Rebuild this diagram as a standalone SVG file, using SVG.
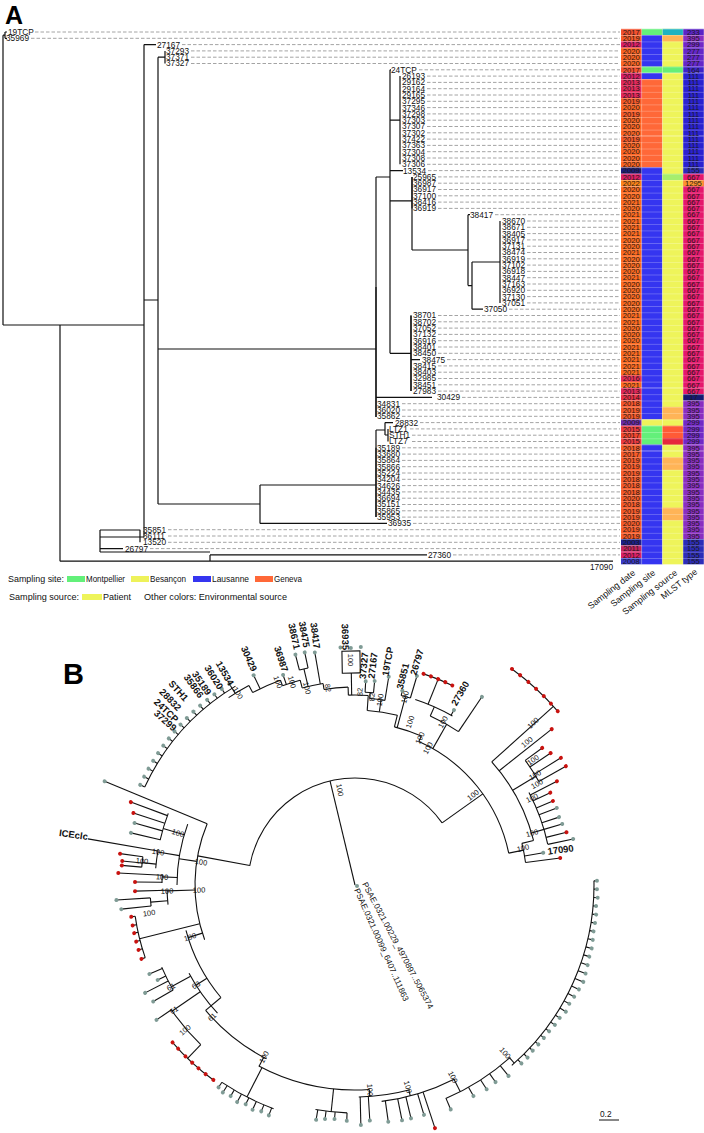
<svg xmlns="http://www.w3.org/2000/svg" width="704" height="1133" viewBox="0 0 704 1133">
<style>
.t{font-family:"Liberation Sans",Arial,sans-serif;font-size:8.3px;fill:#111}
.hm{font-family:"Liberation Sans",Arial,sans-serif;font-size:7.6px;fill:#1a1a1a;text-anchor:middle}
.br{fill:none;stroke:#111;stroke-width:1.2}
.dash{fill:none;stroke:#9a9a9a;stroke-width:0.9;stroke-dasharray:3.5 2}
.lg{font-family:"Liberation Sans",Arial,sans-serif;font-size:9px;fill:#111}
.hd{font-family:"Liberation Sans",Arial,sans-serif;font-size:9px;fill:#111;text-anchor:end}
.bl{font-family:"Liberation Sans",Arial,sans-serif;font-size:9.5px;font-weight:bold;fill:#111;text-anchor:middle}
.bs{font-family:"Liberation Sans",Arial,sans-serif;font-size:7.5px;fill:#111;text-anchor:middle}
.arc{fill:none;stroke:#111;stroke-width:1.1}
.big{font-family:"Liberation Sans",Arial,sans-serif;font-weight:bold;fill:#000}
</style>
<defs>
<pattern id="rows" x="0" y="28.85" width="10" height="6.3" patternUnits="userSpaceOnUse"><rect x="0" y="0" width="10" height="0.5" fill="#fff" fill-opacity="0.45"/></pattern>
<circle id="g" r="2" fill="#7f9b95" stroke="none"/>
<circle id="r" r="2" fill="#c8120f" stroke="none"/>
</defs>

<text class="big" x="5" y="24" font-size="25">A</text>
<text class="big" x="63" y="684" font-size="29">B</text>

<g id="treeA-connectors">
<path class="br" d="M3,35.2V325 M3,35.2H5 M5,32V38.3 M5,32H7 M5,38.3H7 M3,325H144
M144,44.6V537 M144,44.6H156 M144,300H158
M158,57.2V504 M158,57.2H165 M158,349H376 M158,504H260
M376,177V417 M376,177H390 M376,397.4H432
M390,69.8V353.3 M390,69.8H391 M390,120.2H400 M390,170.6H403 M390,200.9H412 M390,353.3H411
M412,176.9V250 M412,250H468
M468,214.7V285.6 M468,214.7H470 M468,285.6H472
M472,262V309.2 M472,262H500 M472,309.2H483
M411,315.5V391.1 M411,359.6H420
M260,485V523.4 M260,485H376 M260,523.4H387
M376,430V517.1 M376,430H385 M385,422.6V435 M385,422.6H393 M385,435H388
M144,537H100 M100,530V552 M100,530H140 M140,529.7V542.3 M100,548.6H123"/>
<path class="br" stroke-width="2.2" d="M165,50.9V63.5 M400,76.1V164.3 M412,176.9V208.4 M500,221V302.9 M411,315.5V391.1 M376,287V417 M376,447.8V517.1 M388,428.9V441.5"/>
<path class="br" d="M210,554.9H427 M210,554.9V561.2 M100,552H210 M60,561.2H613 M60,325V561.2"/>
</g>

<g id="dashes">
<path class="dash" d="M35,32H620 M31,38.3H620 M182,44.6H620 M191,50.9H620 M191,57.2H620 M191,63.5H620 M419,69.8H620
M427,76.1H620 M427,82.4H620 M427,88.7H620 M427,95H620 M427,101.3H620 M427,107.6H620 M427,113.9H620 M427,120.2H620 M427,126.5H620 M427,132.8H620 M427,139.1H620 M427,145.4H620 M427,151.7H620 M427,158H620 M427,164.3H620
M428,170.6H620 M438,176.9H620 M438,183.2H620 M438,189.5H620 M438,195.8H620 M438,202.1H620 M438,208.4H620 M495,214.7H620
M527,221H620 M527,227.3H620 M527,233.6H620 M527,239.9H620 M527,246.2H620 M527,252.5H620 M527,258.8H620 M527,265.1H620 M527,271.4H620 M527,277.7H620 M527,284H620 M527,290.3H620 M527,296.6H620 M527,302.9H620
M509,309.2H620 M438,315.5H620 M438,321.8H620 M438,328.1H620 M438,334.4H620 M438,340.7H620 M438,347H620 M438,353.3H620 M447,359.6H620 M438,365.9H620 M438,372.2H620 M438,378.5H620 M438,384.8H620 M438,391.1H620
M462,397.4H620 M402,403.7H620 M402,410H620 M402,416.3H620 M420,422.6H620 M410,428.9H620 M412,435.2H620 M412,441.5H620
M402,447.8H620 M402,454.1H620 M402,460.4H620 M402,466.7H620 M402,473H620 M402,479.3H620 M402,485.6H620 M402,491.9H620 M402,498.2H620 M402,504.5H620 M402,510.8H620 M402,517.1H620 M413,523.4H620
M168,529.7H620 M168,536H620 M168,542.3H620 M150,548.6H620 M453,554.9H620"/>
</g>

<g id="labelsA">
<text class="t"><tspan x="8" y="34.9">19TCP</tspan><tspan x="6" y="41.2">35969</tspan><tspan x="157" y="47.5">27167</tspan><tspan x="166" y="53.8">37293</tspan><tspan x="166" y="60.1">37371</tspan><tspan x="166" y="66.4">37327</tspan><tspan x="391" y="72.7">24TCP</tspan>
<tspan x="402" y="79">26193</tspan><tspan x="402" y="85.3">29162</tspan><tspan x="402" y="91.6">29164</tspan><tspan x="402" y="97.9">29165</tspan><tspan x="402" y="104.2">37295</tspan><tspan x="402" y="110.5">37346</tspan><tspan x="402" y="116.8">37298</tspan><tspan x="402" y="123.1">37303</tspan><tspan x="402" y="129.4">37307</tspan><tspan x="402" y="135.7">37302</tspan><tspan x="402" y="142">37422</tspan><tspan x="402" y="148.3">37363</tspan><tspan x="402" y="154.6">37304</tspan><tspan x="402" y="160.9">37308</tspan><tspan x="402" y="167.2">37306</tspan>
<tspan x="403" y="173.5">13534</tspan><tspan x="413" y="179.8">25965</tspan><tspan x="413" y="186.1">36987</tspan><tspan x="413" y="192.4">36917</tspan><tspan x="413" y="198.7">37100</tspan><tspan x="413" y="205">38416</tspan><tspan x="413" y="211.3">36919</tspan><tspan x="470" y="217.6">38417</tspan>
<tspan x="502" y="223.9">38670</tspan><tspan x="502" y="230.2">38671</tspan><tspan x="502" y="236.5">38405</tspan><tspan x="502" y="242.8">36917</tspan><tspan x="502" y="249.1">37131</tspan><tspan x="502" y="255.4">38474</tspan><tspan x="502" y="261.7">36919</tspan><tspan x="502" y="268">37102</tspan><tspan x="502" y="274.3">36918</tspan><tspan x="502" y="280.6">38447</tspan><tspan x="502" y="286.9">37163</tspan><tspan x="502" y="293.2">36920</tspan><tspan x="502" y="299.5">37130</tspan><tspan x="502" y="305.8">37051</tspan><tspan x="484" y="312.1">37050</tspan>
<tspan x="413" y="318.4">38701</tspan><tspan x="413" y="324.7">38702</tspan><tspan x="413" y="331">37052</tspan><tspan x="413" y="337.3">37132</tspan><tspan x="413" y="343.6">36916</tspan><tspan x="413" y="349.9">38401</tspan><tspan x="413" y="356.2">38450</tspan><tspan x="422" y="362.5">38475</tspan><tspan x="413" y="368.8">38415</tspan><tspan x="413" y="375.1">38403</tspan><tspan x="413" y="381.4">32985</tspan><tspan x="413" y="387.7">38451</tspan><tspan x="413" y="394">27983</tspan><tspan x="437" y="400.3">30429</tspan>
<tspan x="377" y="406.6">34831</tspan><tspan x="377" y="412.9">36020</tspan><tspan x="377" y="419.2">35862</tspan><tspan x="395" y="425.5">28832</tspan><tspan x="389" y="431.8">LTZ1</tspan><tspan x="389" y="438.1">STH1</tspan><tspan x="389" y="444.4">LTZ7</tspan>
<tspan x="377" y="450.7">35189</tspan><tspan x="377" y="457">33680</tspan><tspan x="377" y="463.3">35864</tspan><tspan x="377" y="469.6">35866</tspan><tspan x="377" y="475.9">35224</tspan><tspan x="377" y="482.2">34204</tspan><tspan x="377" y="488.5">34626</tspan><tspan x="377" y="494.8">34435</tspan><tspan x="377" y="501.1">36694</tspan><tspan x="377" y="507.4">35151</tspan><tspan x="377" y="513.7">35865</tspan><tspan x="377" y="520">35953</tspan><tspan x="388" y="526.3">36935</tspan>
<tspan x="143" y="532.6">35851</tspan><tspan x="143" y="538.9">36111</tspan><tspan x="143" y="545.2">13520</tspan><tspan x="125" y="551.5">26797</tspan><tspan x="428" y="557.8">27360</tspan></text>
<text class="t" x="590" y="570">17090</text>
</g>

<g id="heatmap">
<g id="col-date">
<rect x="621" y="28.85" width="20.7" height="6.3" fill="#f4502d"/><rect x="621" y="35.15" width="20.7" height="6.3" fill="#f85a28"/><rect x="621" y="41.45" width="20.7" height="6.3" fill="#dc1f66"/><rect x="621" y="47.75" width="20.7" height="18.9" fill="#fe6421"/><rect x="621" y="66.65" width="20.7" height="6.3" fill="#f4502d"/><rect x="621" y="72.95" width="20.7" height="6.3" fill="#dc1f66"/><rect x="621" y="79.25" width="20.7" height="18.9" fill="#e4285a"/><rect x="621" y="98.15" width="20.7" height="69.3" fill="#fe6421"/><rect x="621" y="98.15" width="20.7" height="6.3" fill="#f85a28"/><rect x="621" y="110.75" width="20.7" height="6.3" fill="#f85a28"/><rect x="621" y="135.95" width="20.7" height="6.3" fill="#f85a28"/>
<rect x="621" y="167.45" width="20.7" height="6.3" fill="#1c1c7a"/><rect x="621" y="173.75" width="20.7" height="6.3" fill="#dc1f66"/><rect x="621" y="180.05" width="20.7" height="6.3" fill="#ff8418"/><rect x="621" y="186.35" width="20.7" height="207.9" fill="#ff6a1f"/><rect x="621" y="375.35" width="20.7" height="6.3" fill="#ea2d57"/><rect x="621" y="387.95" width="20.7" height="6.3" fill="#e4285a"/><rect x="621" y="394.25" width="20.7" height="6.3" fill="#ec3048"/><rect x="621" y="400.55" width="20.7" height="6.3" fill="#f85428"/><rect x="621" y="406.85" width="20.7" height="12.6" fill="#f85a28"/><rect x="621" y="419.45" width="20.7" height="6.3" fill="#6b2aa8"/><rect x="621" y="425.75" width="20.7" height="6.3" fill="#f03a40"/><rect x="621" y="432.05" width="20.7" height="6.3" fill="#f4462e"/><rect x="621" y="438.35" width="20.7" height="6.3" fill="#f03a40"/><rect x="621" y="444.65" width="20.7" height="94.5" fill="#f85a28"/><rect x="621" y="539.15" width="20.7" height="6.3" fill="#1b1f8c"/><rect x="621" y="545.45" width="20.7" height="6.3" fill="#c2225f"/><rect x="621" y="551.75" width="20.7" height="6.3" fill="#dc1f66"/><rect x="621" y="558.05" width="20.7" height="6.3" fill="#3b3bcc"/>
</g>
<g id="col-site">
<rect x="641.7" y="28.85" width="20.7" height="6.3" fill="#63f07a"/><rect x="641.7" y="35.15" width="20.7" height="31.5" fill="#3535f0"/><rect x="641.7" y="66.65" width="20.7" height="6.3" fill="#63f07a"/><rect x="641.7" y="72.95" width="20.7" height="6.3" fill="#3535f0"/><rect x="641.7" y="79.25" width="20.7" height="88.2" fill="#ff6838"/><rect x="641.7" y="167.45" width="20.7" height="252" fill="#3535f0"/><rect x="641.7" y="419.45" width="20.7" height="6.3" fill="#eef25a"/><rect x="641.7" y="425.75" width="20.7" height="18.9" fill="#63f07a"/><rect x="641.7" y="444.65" width="20.7" height="119.7" fill="#3535f0"/>
</g>
<g id="col-source">
<rect x="662.4" y="28.85" width="20.7" height="535.5" fill="#eef45a"/><rect x="662.4" y="28.85" width="20.7" height="6.3" fill="#1fb3c0"/><rect x="662.4" y="35.15" width="20.7" height="6.3" fill="#ffb457"/><rect x="662.4" y="66.65" width="20.7" height="6.3" fill="#66ee77"/><rect x="662.4" y="173.75" width="20.7" height="6.3" fill="#a6ee6e"/><rect x="662.4" y="406.85" width="20.7" height="12.6" fill="#ffb457"/><rect x="662.4" y="425.75" width="20.7" height="12.6" fill="#ff5a36"/><rect x="662.4" y="438.05" width="20.7" height="6.6" fill="#e6283c"/><rect x="662.4" y="457.25" width="20.7" height="12.6" fill="#ffb457"/><rect x="662.4" y="507.65" width="20.7" height="12.6" fill="#ffb457"/>
</g>
<g id="col-mlst">
<rect x="683.1" y="28.85" width="20.7" height="6.3" fill="#5b24c6"/><rect x="683.1" y="35.15" width="20.7" height="6.3" fill="#8a2ec0"/><rect x="683.1" y="41.45" width="20.7" height="6.3" fill="#7229c6"/><rect x="683.1" y="47.75" width="20.7" height="18.9" fill="#6527c8"/><rect x="683.1" y="66.65" width="20.7" height="6.3" fill="#3e24c8"/><rect x="683.1" y="72.95" width="20.7" height="94.5" fill="#2b22d0"/><rect x="683.1" y="167.45" width="20.7" height="6.3" fill="#2d2db8"/><rect x="683.1" y="173.75" width="20.7" height="220.5" fill="#e5186c"/><rect x="683.1" y="180.05" width="20.7" height="6.3" fill="#ff922e"/><rect x="683.1" y="394.25" width="20.7" height="6.3" fill="#151a70"/><rect x="683.1" y="400.55" width="20.7" height="18.9" fill="#8a2ec0"/><rect x="683.1" y="419.45" width="20.7" height="25.2" fill="#7229c6"/><rect x="683.1" y="444.65" width="20.7" height="94.5" fill="#8a2ec0"/><rect x="683.1" y="539.15" width="20.7" height="25.2" fill="#2d2db8"/>
</g>
<rect x="621" y="28.85" width="82.8" height="535.5" fill="url(#rows)"/>
<path d="M641.7,28.85V564.35 M662.4,28.85V564.35 M683.1,28.85V564.35" stroke="#fff" stroke-opacity="0.4" stroke-width="0.5"/>
<text class="hm"><tspan x="631.3" y="34.7">2017</tspan><tspan x="631.3" y="41">2019</tspan><tspan x="631.3" y="47.3">2012</tspan><tspan x="631.3" y="53.6">2020</tspan><tspan x="631.3" y="59.9">2020</tspan><tspan x="631.3" y="66.2">2020</tspan><tspan x="631.3" y="72.5">2017</tspan><tspan x="631.3" y="78.8">2012</tspan><tspan x="631.3" y="85.1">2013</tspan><tspan x="631.3" y="91.4">2013</tspan><tspan x="631.3" y="97.7">2013</tspan><tspan x="631.3" y="104">2019</tspan><tspan x="631.3" y="110.3">2020</tspan><tspan x="631.3" y="116.6">2019</tspan><tspan x="631.3" y="122.9">2020</tspan><tspan x="631.3" y="129.2">2020</tspan><tspan x="631.3" y="135.5">2020</tspan><tspan x="631.3" y="141.8">2019</tspan><tspan x="631.3" y="148.1">2020</tspan><tspan x="631.3" y="154.4">2020</tspan><tspan x="631.3" y="160.7">2020</tspan><tspan x="631.3" y="167">2020</tspan><tspan x="631.3" y="173.3">2009</tspan><tspan x="631.3" y="179.6">2012</tspan><tspan x="631.3" y="185.9">2022</tspan><tspan x="631.3" y="192.2">2020</tspan><tspan x="631.3" y="198.5">2020</tspan><tspan x="631.3" y="204.8">2021</tspan><tspan x="631.3" y="211.1">2020</tspan><tspan x="631.3" y="217.4">2021</tspan><tspan x="631.3" y="223.7">2021</tspan><tspan x="631.3" y="230">2021</tspan><tspan x="631.3" y="236.3">2021</tspan><tspan x="631.3" y="242.6">2020</tspan><tspan x="631.3" y="248.9">2020</tspan><tspan x="631.3" y="255.2">2021</tspan><tspan x="631.3" y="261.5">2020</tspan><tspan x="631.3" y="267.8">2020</tspan><tspan x="631.3" y="274.1">2020</tspan><tspan x="631.3" y="280.4">2021</tspan><tspan x="631.3" y="286.7">2020</tspan><tspan x="631.3" y="293">2020</tspan><tspan x="631.3" y="299.3">2020</tspan><tspan x="631.3" y="305.6">2020</tspan><tspan x="631.3" y="311.9">2020</tspan><tspan x="631.3" y="318.2">2021</tspan><tspan x="631.3" y="324.5">2021</tspan><tspan x="631.3" y="330.8">2020</tspan><tspan x="631.3" y="337.1">2020</tspan><tspan x="631.3" y="343.4">2020</tspan><tspan x="631.3" y="349.7">2021</tspan><tspan x="631.3" y="356">2021</tspan><tspan x="631.3" y="362.3">2021</tspan><tspan x="631.3" y="368.6">2021</tspan><tspan x="631.3" y="374.9">2021</tspan><tspan x="631.3" y="381.2">2016</tspan><tspan x="631.3" y="387.5">2021</tspan><tspan x="631.3" y="393.8">2013</tspan><tspan x="631.3" y="400.1">2014</tspan><tspan x="631.3" y="406.4">2018</tspan><tspan x="631.3" y="412.7">2019</tspan><tspan x="631.3" y="419">2019</tspan><tspan x="631.3" y="425.3">2009</tspan><tspan x="631.3" y="431.6">2015</tspan><tspan x="631.3" y="437.9">2017</tspan><tspan x="631.3" y="444.2">2015</tspan><tspan x="631.3" y="450.5">2018</tspan><tspan x="631.3" y="456.8">2017</tspan><tspan x="631.3" y="463.1">2019</tspan><tspan x="631.3" y="469.4">2019</tspan><tspan x="631.3" y="475.7">2019</tspan><tspan x="631.3" y="482">2018</tspan><tspan x="631.3" y="488.3">2018</tspan><tspan x="631.3" y="494.6">2018</tspan><tspan x="631.3" y="500.9">2020</tspan><tspan x="631.3" y="507.2">2018</tspan><tspan x="631.3" y="513.5">2019</tspan><tspan x="631.3" y="519.8">2019</tspan><tspan x="631.3" y="526.1">2020</tspan><tspan x="631.3" y="532.4">2019</tspan><tspan x="631.3" y="538.7">2019</tspan><tspan x="631.3" y="545">2003</tspan><tspan x="631.3" y="551.3">2011</tspan><tspan x="631.3" y="557.6">2012</tspan><tspan x="631.3" y="563.9">2008</tspan></text>
<text class="hm"><tspan x="693.4" y="34.7">233</tspan><tspan x="693.4" y="41">395</tspan><tspan x="693.4" y="47.3">299</tspan><tspan x="693.4" y="53.6">277</tspan><tspan x="693.4" y="59.9">277</tspan><tspan x="693.4" y="66.2">277</tspan><tspan x="693.4" y="72.5">164</tspan><tspan x="693.4" y="78.8">111</tspan><tspan x="693.4" y="85.1">111</tspan><tspan x="693.4" y="91.4">111</tspan><tspan x="693.4" y="97.7">111</tspan><tspan x="693.4" y="104">111</tspan><tspan x="693.4" y="110.3">111</tspan><tspan x="693.4" y="116.6">111</tspan><tspan x="693.4" y="122.9">111</tspan><tspan x="693.4" y="129.2">111</tspan><tspan x="693.4" y="135.5">111</tspan><tspan x="693.4" y="141.8">111</tspan><tspan x="693.4" y="148.1">111</tspan><tspan x="693.4" y="154.4">111</tspan><tspan x="693.4" y="160.7">111</tspan><tspan x="693.4" y="167">111</tspan><tspan x="693.4" y="173.3">155</tspan><tspan x="693.4" y="179.6">667</tspan><tspan x="693.4" y="185.9">1295</tspan><tspan x="693.4" y="192.2">667</tspan><tspan x="693.4" y="198.5">667</tspan><tspan x="693.4" y="204.8">667</tspan><tspan x="693.4" y="211.1">667</tspan><tspan x="693.4" y="217.4">667</tspan><tspan x="693.4" y="223.7">667</tspan><tspan x="693.4" y="230">667</tspan><tspan x="693.4" y="236.3">667</tspan><tspan x="693.4" y="242.6">667</tspan><tspan x="693.4" y="248.9">667</tspan><tspan x="693.4" y="255.2">667</tspan><tspan x="693.4" y="261.5">667</tspan><tspan x="693.4" y="267.8">667</tspan><tspan x="693.4" y="274.1">667</tspan><tspan x="693.4" y="280.4">667</tspan><tspan x="693.4" y="286.7">667</tspan><tspan x="693.4" y="293">667</tspan><tspan x="693.4" y="299.3">667</tspan><tspan x="693.4" y="305.6">667</tspan><tspan x="693.4" y="311.9">667</tspan><tspan x="693.4" y="318.2">667</tspan><tspan x="693.4" y="324.5">667</tspan><tspan x="693.4" y="330.8">667</tspan><tspan x="693.4" y="337.1">667</tspan><tspan x="693.4" y="343.4">667</tspan><tspan x="693.4" y="349.7">667</tspan><tspan x="693.4" y="356">667</tspan><tspan x="693.4" y="362.3">667</tspan><tspan x="693.4" y="368.6">667</tspan><tspan x="693.4" y="374.9">667</tspan><tspan x="693.4" y="381.2">667</tspan><tspan x="693.4" y="387.5">667</tspan><tspan x="693.4" y="393.8">667</tspan><tspan x="693.4" y="400.1">17</tspan><tspan x="693.4" y="406.4">395</tspan><tspan x="693.4" y="412.7">395</tspan><tspan x="693.4" y="419">395</tspan><tspan x="693.4" y="425.3">299</tspan><tspan x="693.4" y="431.6">299</tspan><tspan x="693.4" y="437.9">299</tspan><tspan x="693.4" y="444.2">299</tspan><tspan x="693.4" y="450.5">395</tspan><tspan x="693.4" y="456.8">395</tspan><tspan x="693.4" y="463.1">395</tspan><tspan x="693.4" y="469.4">395</tspan><tspan x="693.4" y="475.7">395</tspan><tspan x="693.4" y="482">395</tspan><tspan x="693.4" y="488.3">395</tspan><tspan x="693.4" y="494.6">395</tspan><tspan x="693.4" y="500.9">395</tspan><tspan x="693.4" y="507.2">395</tspan><tspan x="693.4" y="513.5">395</tspan><tspan x="693.4" y="519.8">395</tspan><tspan x="693.4" y="526.1">395</tspan><tspan x="693.4" y="532.4">395</tspan><tspan x="693.4" y="538.7">395</tspan><tspan x="693.4" y="545">155</tspan><tspan x="693.4" y="551.3">155</tspan><tspan x="693.4" y="557.6">155</tspan><tspan x="693.4" y="563.9">155</tspan></text>
<text class="hd" transform="translate(636,574) rotate(-38)">Sampling date</text>
<text class="hd" transform="translate(656,574) rotate(-38)">Sampling site</text>
<text class="hd" transform="translate(678,574) rotate(-38)">Sampling source</text>
<text class="hd" transform="translate(698,573) rotate(-38)">MLST type</text>
</g>

<g id="legend">
<text class="lg" x="8" y="582" textLength="56" lengthAdjust="spacingAndGlyphs">Sampling site:</text>
<rect x="67" y="576" width="18" height="6" fill="#63f07a"/>
<text class="lg" x="86" y="582" textLength="39" lengthAdjust="spacingAndGlyphs">Montpellier</text>
<rect x="131" y="576" width="18" height="6" fill="#eef25a"/>
<text class="lg" x="150" y="582" textLength="36" lengthAdjust="spacingAndGlyphs">Besançon</text>
<rect x="193" y="576" width="18" height="6" fill="#3535f0"/>
<text class="lg" x="212" y="582" textLength="37" lengthAdjust="spacingAndGlyphs">Lausanne</text>
<rect x="255" y="576" width="18" height="6" fill="#ff6838"/>
<text class="lg" x="274" y="582" textLength="28" lengthAdjust="spacingAndGlyphs">Geneva</text>
<text class="lg" x="9" y="600" textLength="70" lengthAdjust="spacingAndGlyphs">Sampling source:</text>
<rect x="82" y="594" width="20" height="6" fill="#eef45a"/>
<text class="lg" x="103" y="600" textLength="28" lengthAdjust="spacingAndGlyphs">Patient</text>
<text class="lg" x="144" y="600" textLength="143" lengthAdjust="spacingAndGlyphs">Other colors: Environmental source</text>
</g>

<g id="treeB" class="arc" transform="translate(355,885)">
<circle r="107" pathLength="360" stroke-dasharray="134.2 225.8" transform="rotate(-169.7)"/>
<line x2="107" transform="rotate(-103.5)"/>
<use href="#g" x="2" y="1"/>
<line x1="107" x2="160" transform="rotate(-169.5)"/>
<circle r="160" pathLength="360" stroke-dasharray="42.5 317.5" transform="rotate(160)"/>
<g transform="rotate(-157.5)"><line x1="160" x2="271"/><use href="#g" x="271"/></g>
<line x1="107" x2="157" transform="rotate(-35.5)"/>
<circle r="157" pathLength="360" stroke-dasharray="54.3 305.7" transform="rotate(-66)"/>
<line x1="157" x2="185" transform="rotate(-60.3)"/>
<circle r="185" pathLength="360" stroke-dasharray="10 350" transform="rotate(-66)"/>
<g transform="rotate(-56)"><line x1="185" x2="227"/><use href="#g" x="227"/></g>
<line x1="185" x2="195" transform="rotate(-66)"/>
<circle r="195" pathLength="360" stroke-dasharray="12 348" transform="rotate(-72)"/>
<g transform="rotate(-60.5)"><line x1="195" x2="201"/><use href="#g" x="201"/></g>
<line x1="195" x2="222" transform="rotate(-68)"/>
<circle r="222" pathLength="360" stroke-dasharray="8 352" transform="rotate(-72)"/>
<use href="#r" x="222" transform="rotate(-72)"/><use href="#r" x="222" transform="rotate(-70)"/><use href="#r" x="222" transform="rotate(-68)"/><use href="#r" x="222" transform="rotate(-66)"/><use href="#r" x="222" transform="rotate(-64)"/>
<line x1="157" x2="163" transform="rotate(-66)"/>
<circle r="163" pathLength="360" stroke-dasharray="10 350" transform="rotate(-76)"/>
<line x1="163" x2="195" transform="rotate(-75)"/>
<circle r="195" pathLength="360" stroke-dasharray="2.8 357.2" transform="rotate(-76.3)"/>
<g transform="rotate(-76.3)"><line x1="195" x2="200"/><use href="#g" x="200"/></g>
<g transform="rotate(-73.5)"><line x1="195" x2="218"/><use href="#g" x="218"/></g>
<line x1="163" x2="175" transform="rotate(-76)"/>
<circle r="175" pathLength="360" stroke-dasharray="10 350" transform="rotate(-86)"/>
<line x1="175" x2="187" transform="rotate(-82)"/>
<circle r="187" pathLength="360" stroke-dasharray="4.7 355.3" transform="rotate(-85.5)"/>
<g transform="rotate(-80.8)"><line x1="187" x2="211"/><use href="#g" x="211"/></g>
<line x1="187" x2="193" transform="rotate(-85.5)"/>
<circle r="193" pathLength="360" stroke-dasharray="2.5 357.5" transform="rotate(-87)"/>
<g transform="rotate(-84.5)"><line x1="193" x2="205"/><use href="#g" x="205"/></g>
<g transform="rotate(-87)"><line x1="193" x2="204"/><use href="#g" x="204"/></g>
<line x1="175" x2="190" transform="rotate(-86)"/>
<circle r="190" pathLength="360" stroke-dasharray="6 354" transform="rotate(-92)"/>
<line x1="190" x2="212" transform="rotate(-91)"/>
<path d="M212,-9H234V9H212Z" transform="rotate(-91)"/>
<use href="#g" x="238" transform="rotate(-93.5)"/><use href="#g" x="237" transform="rotate(-91)"/><use href="#g" x="238" transform="rotate(-88.6)"/>
<line x1="190" x2="198" transform="rotate(-92)"/>
<circle r="198" pathLength="360" stroke-dasharray="7 353" transform="rotate(-99)"/>
<line x1="198" x2="204" transform="rotate(-99)"/>
<circle r="204" pathLength="360" stroke-dasharray="6 354" transform="rotate(-105)"/>
<g transform="rotate(-99.8)"><line x1="204" x2="236"/><use href="#g" x="236"/></g>
<line x1="204" x2="222" transform="rotate(-103.3)"/>
<circle r="222" pathLength="360" stroke-dasharray="2.3 357.7" transform="rotate(-104.5)"/>
<g transform="rotate(-102.2)"><line x1="222" x2="238"/><use href="#g" x="238"/></g>
<g transform="rotate(-104.5)"><line x1="222" x2="238"/><use href="#g" x="238"/></g>
<line x1="204" x2="212" transform="rotate(-105)"/>
<circle r="212" pathLength="360" stroke-dasharray="5 355" transform="rotate(-110)"/>
<g transform="rotate(-108.9)"><line x1="212" x2="222"/><use href="#g" x="222"/></g>
<line x1="212" x2="218" transform="rotate(-110)"/>
<circle r="218" pathLength="360" stroke-dasharray="8 352" transform="rotate(-118)"/>
<g transform="rotate(-115.8)"><line x1="218" x2="233"/><use href="#g" x="233"/></g>
<line x1="218" x2="226" transform="rotate(-118)"/>
<circle r="226" pathLength="360" stroke-dasharray="6 354" transform="rotate(-124)"/>
<line x1="226" x2="232" transform="rotate(-122)"/>
<circle r="232" pathLength="360" stroke-dasharray="34 326" transform="rotate(-155)"/>
<g transform="rotate(-155)"><line x1="232" x2="237"/><use href="#g" x="237"/></g><g transform="rotate(-152.8)"><line x1="232" x2="237"/><use href="#g" x="237"/></g><g transform="rotate(-150.6)"><line x1="232" x2="237"/><use href="#g" x="237"/></g><g transform="rotate(-148.4)"><line x1="232" x2="237"/><use href="#g" x="237"/></g><g transform="rotate(-146.2)"><line x1="232" x2="237"/><use href="#g" x="237"/></g><g transform="rotate(-144)"><line x1="232" x2="237"/><use href="#g" x="237"/></g><g transform="rotate(-141.8)"><line x1="232" x2="237"/><use href="#g" x="237"/></g><g transform="rotate(-139.6)"><line x1="232" x2="237"/><use href="#g" x="237"/></g><g transform="rotate(-137.4)"><line x1="232" x2="237"/><use href="#g" x="237"/></g><g transform="rotate(-135.2)"><line x1="232" x2="237"/><use href="#g" x="237"/></g><g transform="rotate(-133)"><line x1="232" x2="237"/><use href="#g" x="237"/></g><g transform="rotate(-130.8)"><line x1="232" x2="237"/><use href="#g" x="237"/></g><g transform="rotate(-128.6)"><line x1="232" x2="237"/><use href="#g" x="237"/></g><g transform="rotate(-126.4)"><line x1="232" x2="237"/><use href="#g" x="237"/></g><g transform="rotate(-124.2)"><line x1="232" x2="237"/><use href="#g" x="237"/></g><g transform="rotate(-122)"><line x1="232" x2="237"/><use href="#g" x="237"/></g>
<line x1="157" x2="172" transform="rotate(-11.7)"/>
<circle r="172" pathLength="360" stroke-dasharray="6.5 353.5" transform="rotate(-14)"/>
<g transform="rotate(-9.7)"><line x1="172" x2="191"/><use href="#g" x="191"/></g>
<g transform="rotate(-7.5)"><line x1="172" x2="207"/><use href="#r" x="207"/></g>
<line x1="172" x2="184" transform="rotate(-14)"/>
<circle r="184" pathLength="360" stroke-dasharray="28 332" transform="rotate(-42)"/>
<line x1="184" x2="197" transform="rotate(-16.4)"/>
<circle r="197" pathLength="360" stroke-dasharray="16 344" transform="rotate(-28)"/>
<g transform="rotate(-14)"><line x1="197" x2="218"/><use href="#r" x="218"/></g><g transform="rotate(-11.9)"><line x1="197" x2="223"/><use href="#g" x="223"/></g><g transform="rotate(-16.4)"><line x1="197" x2="216"/><use href="#g" x="216"/></g><g transform="rotate(-18.4)"><line x1="197" x2="215"/><use href="#g" x="215"/></g><g transform="rotate(-20.9)"><line x1="197" x2="216"/><use href="#g" x="216"/></g><g transform="rotate(-23)"><line x1="197" x2="215"/><use href="#r" x="215"/></g><g transform="rotate(-25.3)"><line x1="197" x2="216"/><use href="#r" x="216"/></g><g transform="rotate(-27.2)"><line x1="197" x2="227"/><use href="#r" x="227"/></g>
<line x1="184" x2="211" transform="rotate(-31)"/>
<circle r="211" pathLength="360" stroke-dasharray="6.8 353.2" transform="rotate(-36.2)"/>
<g transform="rotate(-29.4)"><line x1="211" x2="242"/><use href="#r" x="242"/></g><g transform="rotate(-31.7)"><line x1="211" x2="242"/><use href="#r" x="242"/></g><g transform="rotate(-34)"><line x1="211" x2="236"/><use href="#r" x="236"/></g><g transform="rotate(-36.2)"><line x1="211" x2="232"/><use href="#r" x="232"/></g>
<g transform="rotate(-38.4)"><line x1="184" x2="251"/><use href="#r" x="251"/></g>
<line x1="184" x2="267" transform="rotate(-42)"/>
<circle r="267" pathLength="360" stroke-dasharray="13.4 346.6" transform="rotate(-54)"/>
<use href="#r" x="267" transform="rotate(-54)"/><use href="#r" x="267" transform="rotate(-51.8)"/><use href="#r" x="267" transform="rotate(-49.5)"/><use href="#r" x="267" transform="rotate(-47.3)"/><use href="#r" x="267" transform="rotate(-45)"/><use href="#r" x="267" transform="rotate(-42.8)"/><use href="#r" x="267" transform="rotate(-40.6)"/>
<line x1="160" x2="178" transform="rotate(188.5)"/>
<circle r="178" pathLength="360" stroke-dasharray="20 340" transform="rotate(180)"/>
<line x1="178" x2="200" transform="rotate(196.4)"/>
<circle r="200" pathLength="360" stroke-dasharray="8 352" transform="rotate(193)"/>
<g transform="rotate(200.3)"><line x1="200" x2="239"/><use href="#r" x="239"/></g><g transform="rotate(198)"><line x1="200" x2="233"/><use href="#r" x="233"/></g><g transform="rotate(195.7)"><line x1="200" x2="229"/><use href="#g" x="229"/></g><g transform="rotate(193.1)"><line x1="200" x2="230"/><use href="#g" x="230"/></g>
<line x1="178" x2="200" transform="rotate(189.5)"/>
<circle r="200" pathLength="360" stroke-dasharray="5.5 354.5" transform="rotate(184.8)"/>
<line x1="200" x2="271" transform="rotate(189.8)"/>
<line x1="200" x2="214" transform="rotate(186)"/>
<circle r="214" pathLength="360" stroke-dasharray="2.8 357.2" transform="rotate(184.8)"/>
<g transform="rotate(187.6)"><line x1="214" x2="237"/><use href="#r" x="237"/></g><g transform="rotate(185.9)"><line x1="214" x2="234"/><use href="#r" x="234"/></g><g transform="rotate(184.8)"><line x1="214" x2="234"/><use href="#r" x="234"/></g>
<line x1="178" x2="193" transform="rotate(182.4)"/>
<circle r="193" pathLength="360" stroke-dasharray="2.5 357.5" transform="rotate(180.6)"/>
<g transform="rotate(182.9)"><line x1="193" x2="237"/><use href="#r" x="237"/></g><g transform="rotate(180.8)"><line x1="193" x2="220"/><use href="#r" x="220"/></g>
<line x1="160" x2="188" transform="rotate(178.2)"/>
<circle r="188" pathLength="360" stroke-dasharray="4.6 355.4" transform="rotate(174)"/>
<g transform="rotate(178.4)"><line x1="188" x2="220"/><use href="#r" x="220"/></g>
<line x1="188" x2="205" transform="rotate(175.2)"/>
<circle r="205" pathLength="360" stroke-dasharray="2.3 357.7" transform="rotate(174.1)"/>
<g transform="rotate(176.4)"><line x1="205" x2="239"/><use href="#g" x="239"/></g><g transform="rotate(174.1)"><line x1="205" x2="235"/><use href="#g" x="235"/></g>
<line x1="160" x2="222" transform="rotate(166)"/>
<circle r="222" pathLength="360" stroke-dasharray="11 349" transform="rotate(160.9)"/>
<g transform="rotate(171.9)"><line x1="222" x2="226"/><use href="#r" x="226"/></g><g transform="rotate(169.7)"><line x1="222" x2="226"/><use href="#r" x="226"/></g><g transform="rotate(167.7)"><line x1="222" x2="226"/><use href="#r" x="226"/></g><g transform="rotate(165.5)"><line x1="222" x2="226"/><use href="#r" x="226"/></g><g transform="rotate(163.3)"><line x1="222" x2="226"/><use href="#r" x="226"/></g><g transform="rotate(160.9)"><line x1="222" x2="226"/><use href="#r" x="226"/></g>
<line x1="160" x2="175" transform="rotate(162.5)"/>
<circle r="175" pathLength="360" stroke-dasharray="25 335" transform="rotate(140)"/>
<line x1="175" x2="188" transform="rotate(147.8)"/>
<circle r="188" pathLength="360" stroke-dasharray="15 345" transform="rotate(137)"/>
<line x1="188" x2="210" transform="rotate(151)"/>
<circle r="210" pathLength="360" stroke-dasharray="7 353" transform="rotate(150)"/>
<g transform="rotate(150)"><line x1="210" x2="233"/><use href="#g" x="233"/></g><g transform="rotate(152.8)"><line x1="210" x2="236"/><use href="#g" x="236"/></g><g transform="rotate(154.3)"><line x1="210" x2="219"/><use href="#g" x="219"/></g><g transform="rotate(156.6)"><line x1="210" x2="224"/><use href="#g" x="224"/></g>
<line x1="188" x2="222" transform="rotate(145.4)"/>
<circle r="222" pathLength="360" stroke-dasharray="12 348" transform="rotate(134)"/>
<g transform="rotate(145.8)"><line x1="222" x2="240"/><use href="#g" x="240"/></g>
<line x1="222" x2="241" transform="rotate(134)"/>
<circle r="241" pathLength="360" stroke-dasharray="13.5 346.5" transform="rotate(126)"/>
<use href="#r" x="241" transform="rotate(139.2)"/><use href="#r" x="241" transform="rotate(137.2)"/><use href="#r" x="241" transform="rotate(134.7)"/><use href="#r" x="241" transform="rotate(132.5)"/><use href="#r" x="241" transform="rotate(130.5)"/><use href="#r" x="241" transform="rotate(128.3)"/><use href="#r" x="241" transform="rotate(126)"/>
<line x1="175" x2="195" transform="rotate(140)"/>
<circle r="195" pathLength="360" stroke-dasharray="23 337" transform="rotate(117)"/>
<line x1="195" x2="205" transform="rotate(117.9)"/>
<circle r="205" pathLength="360" stroke-dasharray="32 328" transform="rotate(86)"/>
<line x1="205" x2="238" transform="rotate(117)"/>
<circle r="238" pathLength="360" stroke-dasharray="14 346" transform="rotate(110)"/>
<g transform="rotate(110.5)"><line x1="238" x2="246"/><use href="#g" x="246"/></g><g transform="rotate(112.5)"><line x1="238" x2="245"/><use href="#g" x="245"/></g><g transform="rotate(114.5)"><line x1="238" x2="247"/><use href="#g" x="247"/></g><g transform="rotate(116.5)"><line x1="238" x2="245"/><use href="#g" x="245"/></g><g transform="rotate(118.5)"><line x1="238" x2="247"/><use href="#g" x="247"/></g><g transform="rotate(120.5)"><line x1="238" x2="245"/><use href="#g" x="245"/></g><g transform="rotate(122.5)"><line x1="238" x2="246"/><use href="#g" x="246"/></g><g transform="rotate(124)"><line x1="238" x2="244"/><use href="#g" x="244"/></g>
<line x1="205" x2="228" transform="rotate(96)"/>
<circle r="228" pathLength="360" stroke-dasharray="8 352" transform="rotate(92)"/>
<g transform="rotate(92)"><line x1="228" x2="236"/><use href="#g" x="236"/></g><g transform="rotate(95)"><line x1="228" x2="235"/><use href="#g" x="235"/></g><g transform="rotate(97.3)"><line x1="228" x2="236"/><use href="#g" x="236"/></g><g transform="rotate(99.4)"><line x1="228" x2="238"/><use href="#g" x="238"/></g>
<line x1="205" x2="212" transform="rotate(86)"/>
<circle r="212" pathLength="360" stroke-dasharray="14 346" transform="rotate(75)"/>
<g transform="rotate(86.4)"><line x1="212" x2="236"/><use href="#g" x="236"/></g><g transform="rotate(88.6)"><line x1="212" x2="240"/><use href="#g" x="240"/></g>
<line x1="212" x2="218" transform="rotate(75.3)"/>
<circle r="218" pathLength="360" stroke-dasharray="20 340" transform="rotate(63)"/>
<g transform="rotate(82)"><line x1="218" x2="239"/><use href="#g" x="239"/></g><g transform="rotate(78.7)"><line x1="218" x2="240"/><use href="#g" x="240"/></g><g transform="rotate(76.5)"><line x1="218" x2="240"/><use href="#g" x="240"/></g><g transform="rotate(73.3)"><line x1="218" x2="240"/><use href="#g" x="240"/></g><g transform="rotate(71.8)"><line x1="218" x2="256"/><use href="#r" x="256"/></g>
<line x1="218" x2="232" transform="rotate(63)"/>
<circle r="232" pathLength="360" stroke-dasharray="19 341" transform="rotate(48)"/>
<g transform="rotate(66.9)"><line x1="232" x2="244"/><use href="#g" x="244"/></g><g transform="rotate(60.7)"><line x1="232" x2="242"/><use href="#g" x="242"/></g><g transform="rotate(57.2)"><line x1="232" x2="243"/><use href="#g" x="243"/></g><g transform="rotate(54.5)"><line x1="232" x2="242"/><use href="#g" x="242"/></g><g transform="rotate(51.2)"><line x1="232" x2="245"/><use href="#g" x="245"/></g>
<line x1="232" x2="239" transform="rotate(48.2)"/>
<circle r="239" pathLength="360" stroke-dasharray="50 310" transform="rotate(-1)"/>
<g transform="rotate(-1)"><line x1="239" x2="242"/><use href="#g" x="242"/></g><g transform="rotate(1)"><line x1="239" x2="242"/><use href="#g" x="242"/></g><g transform="rotate(3)"><line x1="239" x2="243"/><use href="#g" x="243"/></g><g transform="rotate(5)"><line x1="239" x2="242"/><use href="#g" x="242"/></g><g transform="rotate(7)"><line x1="239" x2="243"/><use href="#g" x="243"/></g><g transform="rotate(9)"><line x1="239" x2="243"/><use href="#g" x="243"/></g><g transform="rotate(11)"><line x1="239" x2="243"/><use href="#g" x="243"/></g><g transform="rotate(13)"><line x1="239" x2="244"/><use href="#g" x="244"/></g><g transform="rotate(15)"><line x1="239" x2="245"/><use href="#g" x="245"/></g><g transform="rotate(17)"><line x1="239" x2="245"/><use href="#g" x="245"/></g><g transform="rotate(19)"><line x1="239" x2="246"/><use href="#g" x="246"/></g><g transform="rotate(21)"><line x1="239" x2="247"/><use href="#g" x="247"/></g><g transform="rotate(23)"><line x1="239" x2="248"/><use href="#g" x="248"/></g><g transform="rotate(25)"><line x1="239" x2="247"/><use href="#g" x="247"/></g><g transform="rotate(27)"><line x1="239" x2="246"/><use href="#g" x="246"/></g><g transform="rotate(29)"><line x1="239" x2="245"/><use href="#g" x="245"/></g><g transform="rotate(31)"><line x1="239" x2="246"/><use href="#g" x="246"/></g><g transform="rotate(33)"><line x1="239" x2="244"/><use href="#g" x="244"/></g><g transform="rotate(35)"><line x1="239" x2="244"/><use href="#g" x="244"/></g><g transform="rotate(37)"><line x1="239" x2="243"/><use href="#g" x="243"/></g><g transform="rotate(39)"><line x1="239" x2="243"/><use href="#g" x="243"/></g><g transform="rotate(41)"><line x1="239" x2="243"/><use href="#g" x="243"/></g><g transform="rotate(43)"><line x1="239" x2="243"/><use href="#g" x="243"/></g><g transform="rotate(45)"><line x1="239" x2="244"/><use href="#g" x="244"/></g><g transform="rotate(47)"><line x1="239" x2="244"/><use href="#g" x="244"/></g>
</g>

<g id="treeB-bootstrap">
<text class="bs" dy="0.35em" transform="translate(238,693) rotate(58.6)">100</text>
<text class="bs" dy="0.35em" transform="translate(278,682) rotate(69.2)">100</text>
<text class="bs" dy="0.35em" transform="translate(292,682) rotate(72.7)">100</text>
<text class="bs" dy="0.35em" transform="translate(307,688) rotate(76.3)">100</text>
<text class="bs" dy="0.35em" transform="translate(328,688) rotate(82.2)">82</text>
<text class="bs" dy="0.35em" transform="translate(360,692) rotate(-88.5)">82</text>
<text class="bs" dy="0.35em" transform="translate(372,697) rotate(-84.8)">82</text>
<text class="bs" dy="0.35em" transform="translate(380,700) rotate(-82.3)">100</text>
<text class="bs" dy="0.35em" transform="translate(405,697) rotate(-75.1)">100</text>
<text class="bs" dy="0.35em" transform="translate(410,722) rotate(-71.4)">100</text>
<text class="bs" dy="0.35em" transform="translate(420,738) rotate(-66.1)">100</text>
<text class="bs" dy="0.35em" transform="translate(428,748) rotate(-61.9)">100</text>
<text class="bs" dy="0.35em" transform="translate(443,722) rotate(-61.6)">100</text>
<text class="bs" dy="0.35em" transform="translate(473,795) rotate(-37.3)">100</text>
<text class="bs" dy="0.35em" transform="translate(351,660) rotate(90)">100</text>
<text class="bs" dy="0.35em" transform="translate(340,790) rotate(80)">100</text>
<text class="bs" dy="0.35em" transform="translate(533,723) rotate(-42.3)">100</text>
<text class="bs" dy="0.35em" transform="translate(527,742) rotate(-39.7)">100</text>
<text class="bs" dy="0.35em" transform="translate(533,760) rotate(-35.1)">100</text>
<text class="bs" dy="0.35em" transform="translate(535,775) rotate(-31.4)">100</text>
<text class="bs" dy="0.35em" transform="translate(537,784) rotate(-29.2)">100</text>
<text class="bs" dy="0.35em" transform="translate(532,798) rotate(-26.2)">100</text>
<text class="bs" dy="0.35em" transform="translate(532,833) rotate(-16.4)">100</text>
<text class="bs" dy="0.35em" transform="translate(523,848) rotate(-12.4)">100</text>
<text class="bs" dy="0.35em" transform="translate(178,833) rotate(16.4)">100</text>
<text class="bs" dy="0.35em" transform="translate(158,852) rotate(9.5)">100</text>
<text class="bs" dy="0.35em" transform="translate(142,861) rotate(6.4)">100</text>
<text class="bs" dy="0.35em" transform="translate(201,862) rotate(8.5)">100</text>
<text class="bs" dy="0.35em" transform="translate(162,877) rotate(2.4)">100</text>
<text class="bs" dy="0.35em" transform="translate(167,891) rotate(-1.8)">100</text>
<text class="bs" dy="0.35em" transform="translate(149,913) rotate(-7.7)">100</text>
<text class="bs" dy="0.35em" transform="translate(199,890) rotate(-1.8)">100</text>
<text class="bs" dy="0.35em" transform="translate(190,937) rotate(-17.5)">100</text>
<text class="bs" dy="0.35em" transform="translate(196,985) rotate(-32.2)">63</text>
<text class="bs" dy="0.35em" transform="translate(171,987) rotate(-29)">61</text>
<text class="bs" dy="0.35em" transform="translate(174,1010) rotate(-34.6)">61</text>
<text class="bs" dy="0.35em" transform="translate(212,1017) rotate(-42.7)">61</text>
<text class="bs" dy="0.35em" transform="translate(185,1030) rotate(-40.5)">100</text>
<text class="bs" dy="0.35em" transform="translate(264,1057) rotate(-62.1)">100</text>
<text class="bs" dy="0.35em" transform="translate(370,1090) rotate(85.8)">100</text>
<text class="bs" dy="0.35em" transform="translate(408,1087) rotate(75.3)">100</text>
<text class="bs" dy="0.35em" transform="translate(453,1077) rotate(62.9)">100</text>
<text class="bs" dy="0.35em" transform="translate(505,1053) rotate(48.2)">100</text>
</g>

<g id="treeB-labels">
<text class="bl" transform="translate(163,723) rotate(42)">37299</text>
<text class="bl" transform="translate(164,713) rotate(44)">24TCP</text>
<text class="bl" transform="translate(168,702) rotate(46)">28832</text>
<text class="bl" transform="translate(176,693) rotate(48)">STH1</text>
<text class="bl" transform="translate(191,688) rotate(54)">35866</text>
<text class="bl" transform="translate(199,685) rotate(56)">35189</text>
<text class="bl" transform="translate(211,679) rotate(58)">36020</text>
<text class="bl" transform="translate(222,675) rotate(60)">13534</text>
<text class="bl" transform="translate(246,660) rotate(66)">30429</text>
<text class="bl" transform="translate(278,660) rotate(72)">36987</text>
<text class="bl" transform="translate(291,637) rotate(78)">38671</text>
<text class="bl" transform="translate(301,635) rotate(80)">38475</text>
<text class="bl" transform="translate(312,636) rotate(82)">38417</text>
<text class="bl" transform="translate(342,637) rotate(88)">36935</text>
<text class="bl" transform="translate(367,666) rotate(-85)">37327</text>
<text class="bl" transform="translate(376,666) rotate(-83)">27167</text>
<text class="bl" transform="translate(391,662) rotate(-80)">19TCP</text>
<text class="bl" transform="translate(406,677) rotate(-76)">35851</text>
<text class="bl" transform="translate(420,663) rotate(-73)">26797</text>
<text class="bl" transform="translate(463,695) rotate(-60)">27360</text>
<text class="bl" transform="translate(561,853) rotate(-8)">17090</text>
<text class="bl" transform="translate(73,838) rotate(8)">ICEclc</text>
<text class="t" font-size="9.5" transform="translate(362,884) rotate(62)">PSAE.0321.00229_4970897..5065374</text>
<text class="t" font-size="9.5" transform="translate(354,890) rotate(66)">PSAE.0321.00099_6407..111863</text>
<text class="t" x="600" y="1117" font-size="12">0.2</text>
<path d="M599,1120H619" stroke="#111" stroke-width="1"/>
</g>
</svg>
